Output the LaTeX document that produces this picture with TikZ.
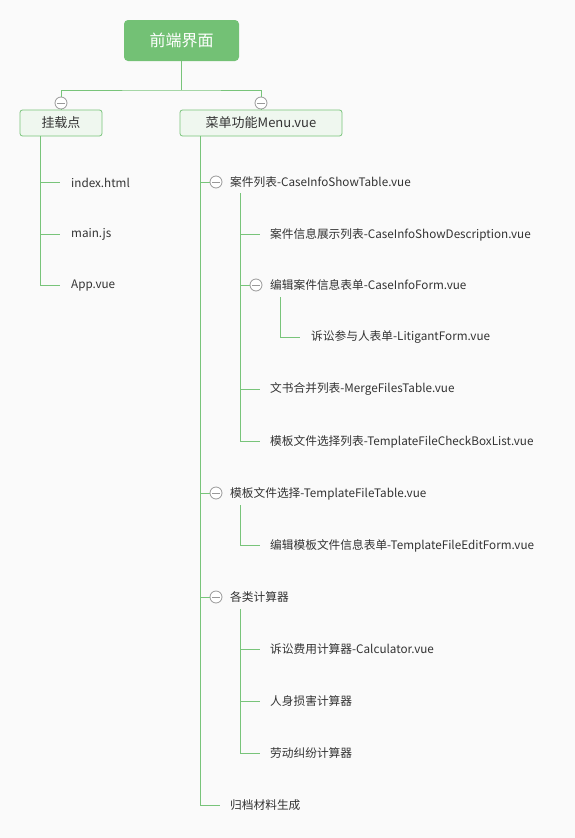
\documentclass[tikz,border=0pt]{standalone}
\usepackage{fontspec}
\setmainfont{Noto Sans CJK SC}
\definecolor{bg}{HTML}{FAFAFA}
\definecolor{rootg}{HTML}{73C175}
\definecolor{lgreen}{HTML}{78C47A}
\definecolor{boxfill}{HTML}{EFF7EF}
\definecolor{tgray}{HTML}{999999}
\definecolor{txt}{HTML}{333333}
\begin{document}
\begin{tikzpicture}[x=1pt,y=-1pt,
  link/.style={draw=lgreen, line width=1pt},
  item/.style={anchor=west, inner sep=0pt, font=\fontsize{11.7}{14}\selectfont, text=txt},
  tog/.style={circle, draw=tgray, fill=white, minimum size=12pt, inner sep=0pt, line width=0.8pt,
    path picture={\draw[tgray, line width=0.8pt] ([xshift=-4pt]path picture bounding box.center) -- ([xshift=4pt]path picture bounding box.center);}},
  rootbox/.style={rounded corners=4pt, fill=rootg, text=white, minimum width=115pt, minimum height=41pt, inner sep=0pt, font=\fontsize{16}{18}\selectfont},
  subbox/.style={rounded corners=2.5pt, draw=lgreen, fill=boxfill, line width=0.8pt, text=txt, minimum height=26pt, inner sep=0pt, font=\fontsize{13}{15}\selectfont}
]
\fill[bg] (0,0) rectangle (575,838);
\useasboundingbox (0,0) rectangle (575,838);

% root and first level
\node[rootbox] (root) at (181.5,40.5) {前端界面};
\node[subbox, minimum width=82pt] (mount) at (61,123) {挂载点};
\node[subbox, minimum width=162pt] (menu) at (261,123) {菜单功能Menu.vue};
\coordinate (bus) at (181.5,90);
\draw[link] (root.south) -- (bus);
\node[tog] (tmount) at (61,103) {};
\node[tog] (tmenu) at (261,103) {};
\draw[link] (tmount.north) |- (bus) -| (tmenu.north);
\draw[link] (tmount.south) -- (mount.north);
\draw[link] (tmenu.south) -- (menu.north);

% mount children
\node[item] (idx) at (71,182.5) {index.html};
\node[item] (mainjs) at (71,234.5) {main.js};
\node[item] (app) at (71,285.5) {App.vue};
\coordinate (mtop) at (40,136);
\draw[link] (mtop) |- ([xshift=-11pt,yshift=0.5pt]app.west);
\draw[link] (40,182) -- ([xshift=-11pt,yshift=0.5pt]idx.west);
\draw[link] (40,234) -- ([xshift=-11pt,yshift=0.5pt]mainjs.west);

% menu children
\node[tog] (t1) at (216,182) {};
\node[item] (case) at (230,182.5) {案件列表-CaseInfoShowTable.vue};
\node[tog] (t2) at (216,493) {};
\node[item] (tpl) at (230,493.5) {模板文件选择-TemplateFileTable.vue};
\node[tog] (t3) at (216,597) {};
\node[item] (calc) at (230,597.5) {各类计算器};
\node[item] (arch) at (230,805.5) {归档材料生成};
\coordinate (nutop) at (200,136);
\draw[link] (nutop) |- ([xshift=-10pt,yshift=0.5pt]arch.west);
\draw[link] (200,182) -- (t1.west);
\draw[link] (200,493) -- (t2.west);
\draw[link] (200,597) -- (t3.west);

% case children
\node[item] (desc) at (270,234.5) {案件信息展示列表-CaseInfoShowDescription.vue};
\node[tog] (t4) at (256,285) {};
\node[item] (form) at (270,285.5) {编辑案件信息表单-CaseInfoForm.vue};
\node[item] (merge) at (270,389.5) {文书合并列表-MergeFilesTable.vue};
\node[item] (check) at (270,441.5) {模板文件选择列表-TemplateFileCheckBoxList.vue};
\coordinate (ctop) at (240,193);
\draw[link] (ctop) |- ([xshift=-10pt,yshift=0.5pt]check.west);
\draw[link] (240,234) -- ([xshift=-10pt,yshift=0.5pt]desc.west);
\draw[link] (240,285) -- (t4.west);
\draw[link] (240,389) -- ([xshift=-10pt,yshift=0.5pt]merge.west);

% form child
\node[item] (lit) at (311,337.5) {诉讼参与人表单-LitigantForm.vue};
\coordinate (ftop) at (280,297);
\draw[link] (ftop) |- ([xshift=-11pt,yshift=0.5pt]lit.west);

% template child
\node[item] (edit) at (270,545.5) {编辑模板文件信息表单-TemplateFileEditForm.vue};
\coordinate (ttop) at (240,505);
\draw[link] (ttop) |- ([xshift=-10pt,yshift=0.5pt]edit.west);

% calculators
\node[item] (fee) at (270,649.5) {诉讼费用计算器-Calculator.vue};
\node[item] (inj) at (270,701.5) {人身损害计算器};
\node[item] (lab) at (270,753.5) {劳动纠纷计算器};
\coordinate (ktop) at (240,609);
\draw[link] (ktop) |- ([xshift=-10pt,yshift=0.5pt]lab.west);
\draw[link] (240,649) -- ([xshift=-10pt,yshift=0.5pt]fee.west);
\draw[link] (240,701) -- ([xshift=-10pt,yshift=0.5pt]inj.west);
\end{tikzpicture}
\end{document}
